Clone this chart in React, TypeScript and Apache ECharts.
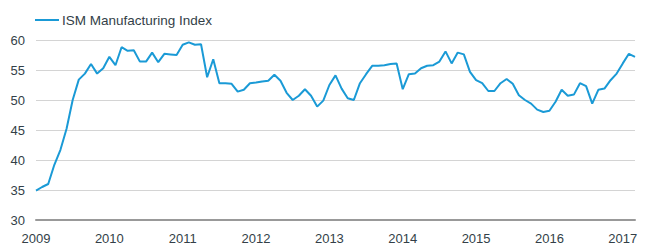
import React, { useEffect, useRef } from "react";
import * as echarts from "echarts";

const seriesName = "ISM Manufacturing Index";
const yearLabels = ["2009", "2010", "2011", "2012", "2013", "2014", "2015", "2016", "2017"];
const values2009 = [34.9, 35.5, 36.0, 39.2, 41.7, 45.2, 50.0, 53.4, 54.4, 56.0, 54.4, 55.3];
const values2010 = [57.2, 55.8, 58.8, 58.2, 58.3, 56.4, 56.4, 57.9, 56.3, 57.7, 57.6, 57.5];
const values2011 = [59.2, 59.6, 59.2, 59.3, 53.8, 56.8, 52.8, 52.8, 52.7, 51.4, 51.7, 52.8];
const values2012 = [52.9, 53.1, 53.2, 54.2, 53.2, 51.2, 50.0, 50.7, 51.8, 50.7, 48.9, 49.9];
const values2013 = [52.5, 54.1, 51.9, 50.3, 50.0, 52.8, 54.3, 55.7, 55.7, 55.8, 56.0, 56.1];
const values2014 = [51.8, 54.3, 54.4, 55.3, 55.7, 55.8, 56.4, 58.1, 56.1, 57.9, 57.6, 54.7];
const values2015 = [53.3, 52.8, 51.5, 51.5, 52.8, 53.5, 52.7, 50.8, 50.0, 49.4, 48.4, 48.0];
const values2016 = [48.2, 49.7, 51.7, 50.7, 50.9, 52.8, 52.3, 49.4, 51.7, 51.9, 53.3, 54.4];
const values2017 = [56.1, 57.7, 57.2];

const yearlyValues = [values2009, values2010, values2011, values2012, values2013, values2014, values2015, values2016, values2017];

export default function App() {
  const ref = useRef<HTMLDivElement>(null);
  useEffect(() => {
    document.body.style.margin = "0";
    if (!ref.current) return;
    const chart = echarts.init(ref.current, undefined, { renderer: "svg" });
    const categories: string[] = [];
    const data: number[] = [];
    yearlyValues.forEach((arr, yi) => {
      arr.forEach((v, mi) => {
        categories.push(mi === 0 ? yearLabels[yi] : yearLabels[yi] + "-" + (mi + 1));
        data.push(v);
      });
    });
    const font = "Liberation Sans, Arial, sans-serif";
    chart.setOption({
      animation: false,
      textStyle: { fontFamily: font },
      legend: {
        show: true,
        left: 30,
        top: 8,
        icon: "rect",
        itemWidth: 24,
        itemHeight: 2,
        itemGap: 10,
        textStyle: { color: "#333f48", fontSize: 13.5, fontFamily: font, padding: [0, 0, 0, -2] },
        data: [seriesName],
      },
      grid: { left: 36, right: 15, top: 40, bottom: 32, containLabel: false },
      xAxis: {
        type: "category",
        data: categories,
        boundaryGap: false,
        axisLine: { show: true, lineStyle: { color: "#999999", width: 2 } },
        axisTick: { show: false },
        splitLine: { show: false },
        axisLabel: {
          interval: (idx: number) => idx % 12 === 0,
          formatter: (v: string) => v.slice(0, 4),
          color: "#333f48",
          fontSize: 13,
          margin: 12,
          fontFamily: font,
        },
      },
      yAxis: {
        type: "value",
        min: 30,
        max: 60,
        interval: 5,
        axisLine: { show: false },
        axisTick: { show: false },
        splitLine: { lineStyle: { color: "#d4d4d4", width: 1 } },
        axisLabel: { color: "#333f48", fontSize: 13, margin: 11, fontFamily: font },
      },
      series: [
        {
          name: seriesName,
          type: "line",
          data,
          showSymbol: false,
          symbol: "none",
          lineStyle: { color: "#1a9ad6", width: 2 },
          itemStyle: { color: "#1a9ad6" },
        },
      ],
    });
    return () => chart.dispose();
  }, []);
  return <div ref={ref} style={{ width: 650, height: 252 }} />;
}
